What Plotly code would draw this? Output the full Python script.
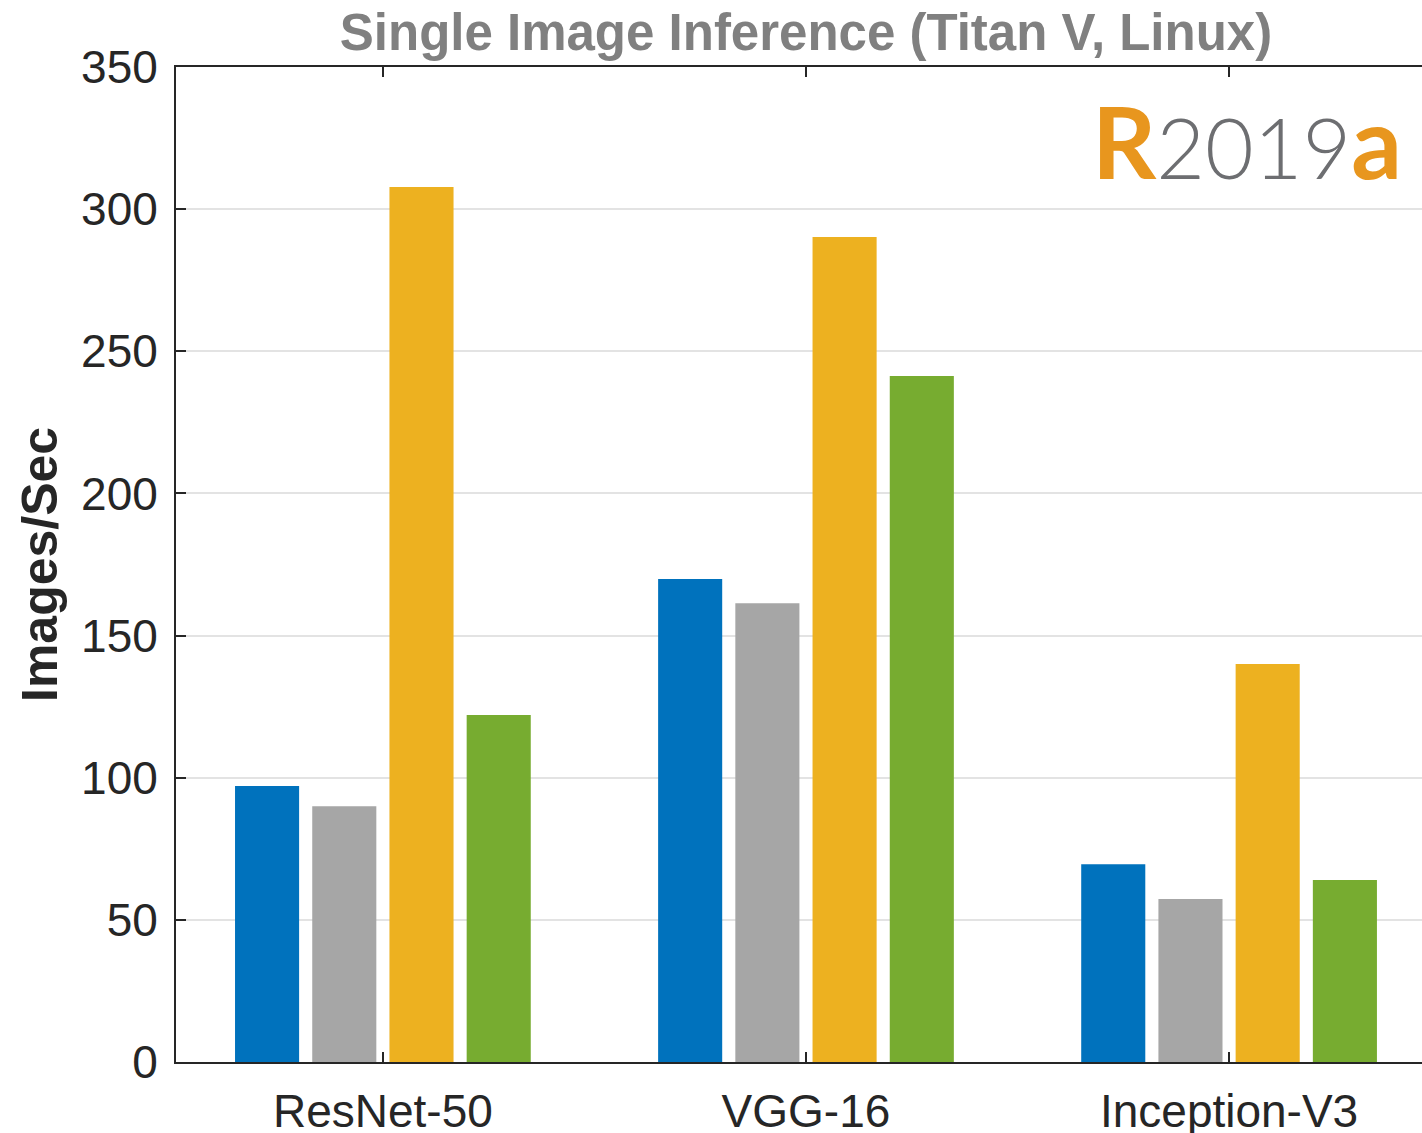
import plotly.graph_objects as go

networks = ["ResNet-50", "VGG-16", "Inception-V3"]
series_names = ["Series 1", "Series 2", "Series 3", "Series 4"]
series_colors = ["#0072BD", "#A6A6A6", "#EDB120", "#77AC30"]
series_values = [
    [97.1, 169.9, 69.6],
    [90.0, 161.4, 57.3],
    [307.8, 290.2, 140.0],
    [122.1, 241.3, 64.0],
]
y_ticks = [0, 50, 100, 150, 200, 250, 300, 350]

x_pos = [1, 2, 3]

fig = go.Figure()
for name, color, vals in zip(series_names, series_colors, series_values):
    fig.add_trace(go.Bar(x=x_pos, y=vals, name=name, marker=dict(color=color, line=dict(width=0))))

axis_col = "#262626"
fig.update_layout(
    width=1422, height=1133,
    margin=dict(l=176, r=0, t=67, b=71, autoexpand=False),
    paper_bgcolor="white", plot_bgcolor="white",
    barmode="group", bargap=0.27, bargroupgap=0.17,
    showlegend=False,
    font=dict(family="Liberation Sans, Arial, sans-serif", color=axis_col, size=46),
    title=dict(text="<b>Single Image Inference (Titan V, Linux)</b>",
               font=dict(size=51, color="#808080"),
               x=806 / 1422, xanchor="center", y=1 - 32 / 1133, yanchor="middle"),
)
fig.update_xaxes(
    range=[0.511, 3.456], tickvals=x_pos, ticktext=networks,
    showline=True, linecolor=axis_col, linewidth=2, mirror="ticks",
    ticks="inside", ticklen=10, tickcolor=axis_col, tickwidth=1.5,
    showgrid=False, zeroline=False, ticklabelstandoff=8, automargin=False,
)
fig.update_yaxes(
    range=[0, 350], tickvals=y_ticks,
    showline=True, linecolor=axis_col, linewidth=2, mirror=False,
    ticks="inside", ticklen=10, tickcolor=axis_col, tickwidth=1.5,
    showgrid=True, gridcolor="#E3E3E3", gridwidth=1.5, zeroline=False,
    ticklabelstandoff=7, automargin=False,
)
fig.add_annotation(
    text="<b>Images/Sec</b>", textangle=-90, showarrow=False,
    xref="paper", yref="paper", x=(40 - 176) / 1246, y=(1062 - 565) / 995,
    xanchor="center", yanchor="middle", font=dict(size=50, color=axis_col),
)
fig.add_annotation(
    text="<b><span style='color:#E8961E'>R</span></b>"
         "<span style='color:#6D6E71;font-size:84px;font-weight:300'>2019</span>"
         "<b><span style='color:#E8961E'>a</span></b>",
    showarrow=False, xref="paper", yref="paper",
    x=(1247 - 176) / 1246, y=(1062 - 140) / 995,
    xanchor="center", yanchor="middle",
    font=dict(family="Lato, Liberation Sans, sans-serif", size=100),
)

fig.write_html("out.html", config={"displayModeBar": False},
               post_script="document.body.style.margin='0';")
